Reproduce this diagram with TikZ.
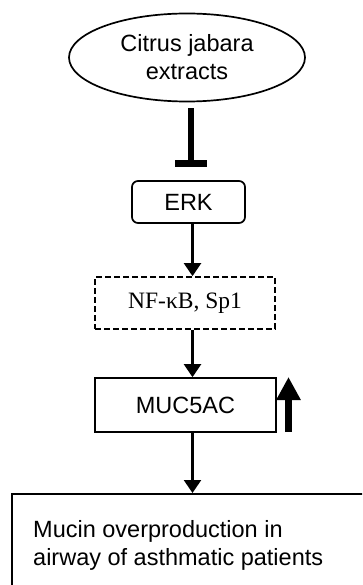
\documentclass[tikz,border=0pt]{standalone}
\usepackage{fontspec}
\setmainfont{Liberation Sans}
\newfontfamily\timesfont{Liberation Serif}
\usetikzlibrary{arrows.meta,shapes.geometric,calc}
\begin{document}
\begin{tikzpicture}[x=1pt,y=-1pt,
  every node/.style={font=\fontsize{23.5}{28}\selectfont, inner sep=0pt},
  frame/.style={draw, line width=1.7pt},
  flow/.style={line width=2.4pt, -{Triangle[width=17pt,length=13pt]}},
  block/.style={line width=6pt, shorten <=6pt, -{Rectangle[length=7pt,width=32pt]}},
  upmark/.style={line width=7pt, -{Triangle[width=23pt,length=23pt]}}]
  \clip (0,0) rectangle (362,585);

  % pathway
  \node[frame, ellipse, minimum width=236pt, minimum height=88pt, align=center]
    (cje) at (187,57.5) {Citrus jabara\\extracts};
  \node[frame, rounded corners=6pt, minimum width=113pt, minimum height=42pt]
    (erk) at (188.5,202) {ERK};
  \node[frame, dashed, dash pattern=on 6pt off 3pt, minimum width=180pt, minimum height=52pt]
    (nf) at (185,303) {\timesfont NF-κB, Sp1};
  \node[frame, minimum width=181pt, minimum height=54pt]
    (muc) at (185.5,405) {MUC5AC};
  \node[draw, line width=2pt, anchor=north west, minimum width=370pt, minimum height=110pt]
    (out) at (11,493) {};
  % the base of a two-line node sits on its last line
  \node[anchor=base west, align=left] (outtxt) at (33,565)
    {Mucin overproduction in\\airway of asthmatic patients};

  % connectors
  \coordinate (axis) at (192.5,0);
  \coordinate (barend) at (191,167);
  \draw[block] (cje.south -| barend) -- (barend);
  \draw[flow] (erk.south -| axis) -- (nf.north -| axis);
  \draw[flow] (nf.south -| axis) -- (muc.north -| axis);
  \draw[flow] (muc.south -| axis) -- (out.north -| axis);

  % up-regulation mark beside MUC5AC
  \coordinate (upbase) at (288.5,432);
  \coordinate (uptip) at (288.5,377);
  \draw[upmark] (upbase) -- (uptip);
\end{tikzpicture}
\end{document}
